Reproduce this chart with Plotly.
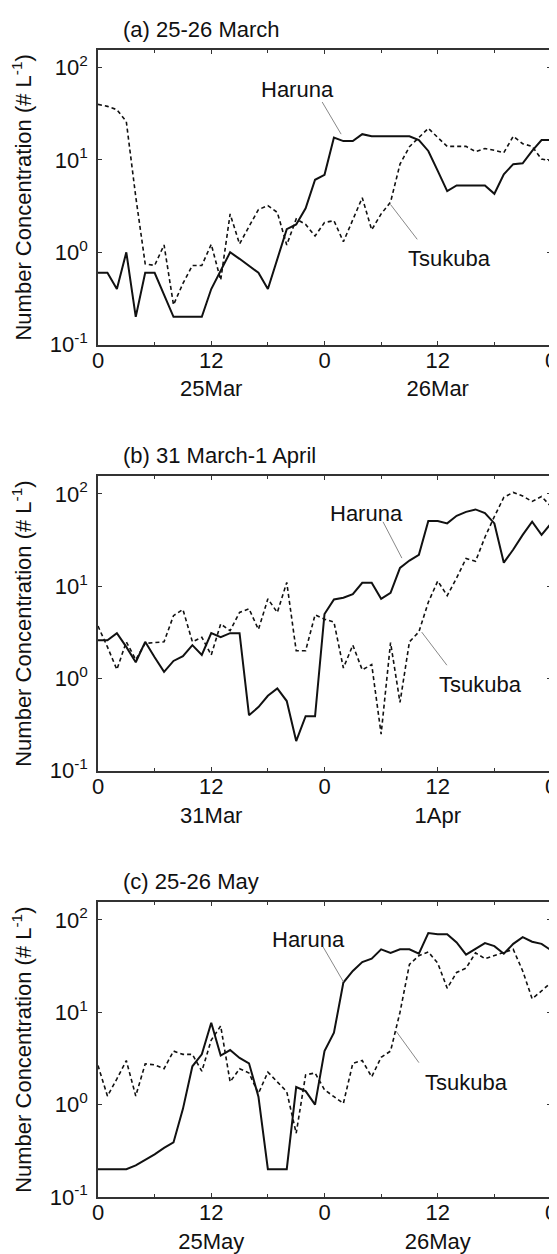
import plotly.graph_objects as go

# ---------------- data (hourly, 0-48 h) ----------------
hours = list(range(49))

har_a = [0.6, 0.6, 0.4, 1.0, 0.2, 0.6, 0.6, 0.35, 0.2, 0.2, 0.2, 0.2, 0.4, 0.63, 1.0, 0.85,
         0.72, 0.6, 0.4, 0.85, 1.78, 2.0, 3.0, 6.1, 6.9, 17.5, 16, 16, 19, 18, 18, 18, 18, 18,
         16.4, 12.5, 7.6, 4.6, 5.3, 5.3, 5.3, 5.3, 4.3, 7.0, 9.0, 9.2, 12.5, 16.4, 16.4]
tsu_a = [40, 38, 35, 26, 4, 0.75, 0.72, 1.2, 0.27, 0.46, 0.72, 0.72, 1.22, 0.5, 2.6, 1.23,
         1.9, 2.9, 3.2, 2.7, 1.2, 2.3, 2.0, 1.5, 2.1, 2.2, 1.3, 2.3, 3.9, 1.75, 2.6, 3.5, 9,
         13.9, 17.5, 22, 17.5, 14, 14, 14, 12.3, 13.3, 12.7, 12, 18, 15, 14, 10.2, 9.8]

har_b = [2.6, 2.6, 3.1, 2.2, 1.5, 2.5, 1.7, 1.18, 1.55, 1.75, 2.3, 1.8, 3.1, 2.8, 3.1, 3.1,
         0.4, 0.49, 0.65, 0.78, 0.57, 0.21, 0.39, 0.39, 5.0, 7.2, 7.5, 8.2, 10.9, 10.9, 7.3,
         8.5, 15.8, 19, 21.9, 51, 51, 48, 58, 64, 68, 62, 48, 18, 25, 36, 50, 36, 48]
tsu_b = [3.7, 2.2, 1.25, 2.5, 1.6, 2.4, 2.45, 2.5, 4.8, 5.6, 2.5, 2.8, 1.8, 3.9, 3.3, 5.2,
         5.7, 3.4, 7.3, 5.2, 11, 2.0, 2.0, 4.9, 4.4, 4.1, 1.3, 2.3, 1.24, 1.42, 0.25, 2.45,
         0.55, 2.5, 3.2, 6.7, 11.4, 7.9, 12.3, 20, 18.6, 34, 57, 92, 104, 95, 83, 94, 73]

har_c = [0.2, 0.2, 0.2, 0.2, 0.22, 0.25, 0.29, 0.34, 0.39, 0.9, 2.6, 3.5, 7.7, 3.4, 3.9, 3.2,
         2.8, 1.22, 0.2, 0.2, 0.2, 1.55, 1.4, 1.0, 3.8, 6.0, 21, 28, 35, 38, 48, 44, 48, 48,
         43, 72, 70, 70, 57, 42, 49, 56, 52, 43, 55, 65, 58, 55, 47]
tsu_c = [2.65, 1.24, 1.9, 3.0, 1.24, 2.76, 2.7, 2.45, 3.8, 3.5, 3.5, 2.3, 5.0, 7.1, 1.76, 2.45,
         2.2, 1.32, 2.25, 1.75, 1.38, 0.49, 2.1, 2.2, 1.45, 1.22, 1.03, 2.8, 3.0, 2.0, 3.25,
         3.8, 10, 33, 41, 45, 34, 18.2, 27, 30, 44, 38, 41, 44, 48, 28, 14, 17, 21]

panel_titles = ["(a) 25-26 March", "(b) 31 March-1 April", "(c) 25-26 May"]
day_labels = [("25Mar", "26Mar"), ("31Mar", "1Apr"), ("25May", "26May")]
major_ticks = [0, 12, 24, 36, 48]
minor_ticks = [6, 18, 30, 42]
y_tickvals = [0.1, 1, 10, 100]
y_ticktext = ["10<sup>-1</sup>", "10<sup>0</sup>", "10<sup>1</sup>", "10<sup>2</sup>"]
y_title = "Number Concentration (# L<sup>-1</sup>)"

# annotation placement: (label x[h], label y[log10]), leader start, leader end
haruna_notes = [((21.1, 1.76), (23.66, 1.643), (25.76, 1.279)),
                ((28.44, 1.786), (30.12, 1.714), (32.2, 1.305)),
                ((22.35, 1.783), (23.77, 1.722), (26.0, 1.33))]
tsukuba_notes = [((37.2, -0.069), (33.95, 0.124), (30.99, 0.518)),
                 ((40.58, -0.064), (37.09, 0.128), (34.3, 0.503)),
                 ((39.06, 0.243), (34.12, 0.438), (31.58, 0.796))]

domains = [[0.7431, 1.0], [0.3716, 0.6282], [0.0, 0.2569]]
series = [(har_a, tsu_a), (har_b, tsu_b), (har_c, tsu_c)]

FONT = "Arial, Liberation Sans, sans-serif"
FS = 22
AXC = "#333333"
TXT = "#111111"

fig = go.Figure()
annotations = []
layout_axes = {}

for i, (har, tsu) in enumerate(series):
    sfx = "" if i == 0 else str(i + 1)
    xa, ya = "x" + sfx, "y" + sfx
    fig.add_trace(go.Scatter(x=hours, y=tsu, mode="lines", xaxis=xa, yaxis=ya,
                             line=dict(color=TXT, width=1.6, dash="4px,3px"),
                             showlegend=False, name="Tsukuba"))
    fig.add_trace(go.Scatter(x=hours, y=har, mode="lines", xaxis=xa, yaxis=ya,
                             line=dict(color=TXT, width=2.0),
                             showlegend=False, name="Haruna"))
    d1, d2 = day_labels[i]
    ticktext = ["0", "12<br>" + d1, "0", "12<br>" + d2, "0"]
    layout_axes["xaxis" + sfx] = dict(
        domain=[0, 1], anchor=ya, range=[0, 48], tickvals=major_ticks, ticktext=ticktext,
        ticks="inside", ticklen=4, tickcolor=AXC, mirror="allticks", showline=True,
        linecolor=AXC, linewidth=1.5, showgrid=False, zeroline=False,
        ticklabelstandoff=-5,
        tickfont=dict(family=FONT, size=FS, color=TXT),
        minor=dict(tickvals=minor_ticks, ticks="inside", ticklen=3, tickcolor=AXC,
                   showgrid=False))
    layout_axes["yaxis" + sfx] = dict(
        domain=domains[i], anchor=xa, type="log", range=[-1, 2.19],
        tickvals=y_tickvals, ticktext=y_ticktext, ticks="inside", ticklen=4, tickcolor=AXC,
        mirror="allticks", showline=True, linecolor=AXC, linewidth=1.5, showgrid=False,
        zeroline=False, ticklabelstandoff=4,
        tickfont=dict(family=FONT, size=FS, color=TXT),
        title=dict(text=y_title, font=dict(family=FONT, size=FS, color=TXT), standoff=12))

    annotations.append(dict(text=panel_titles[i], xref=xa + " domain", yref=ya + " domain",
                            x=0.05, y=1, xanchor="left", yanchor="middle", yshift=21,
                            showarrow=False, font=dict(family=FONT, size=FS, color=TXT)))
    for name, note in (("Haruna", haruna_notes[i]), ("Tsukuba", tsukuba_notes[i])):
        (tx, ty), (sx, sy), (ex, ey) = note
        annotations.append(dict(text=name, x=tx, y=ty, xref=xa, yref=ya, showarrow=False,
                                font=dict(family=FONT, size=FS, color=TXT)))
        annotations.append(dict(text="", x=ex, y=ey, ax=sx, ay=sy, xref=xa, yref=ya,
                                axref=xa, ayref=ya, showarrow=True, arrowhead=0,
                                arrowwidth=1, arrowcolor="#888888", standoff=0,
                                startstandoff=0))

fig.update_layout(width=557, height=1254, margin=dict(l=90, r=8, t=42, b=52),
                  paper_bgcolor="white", plot_bgcolor="white", showlegend=False,
                  annotations=annotations, **layout_axes)

fig.write_html("out.html")
